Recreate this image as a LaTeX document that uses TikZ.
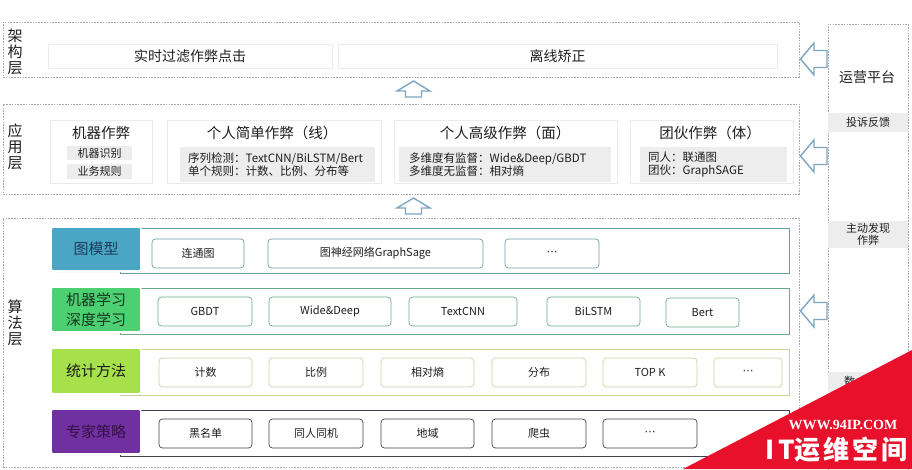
\documentclass[tikz,border=0pt]{standalone}
\usepackage{fontspec}
\setmainfont{Noto Sans CJK SC}
\newfontfamily\dejavu{DejaVu Sans}
\newfontfamily\wmserif{Liberation Serif}
\usetikzlibrary{shadows}
\definecolor{dashgray}{HTML}{A8A8A8}
\definecolor{txt}{HTML}{1E1E1E}
\definecolor{arrowblue}{HTML}{7FA6C0}
\definecolor{subgray}{HTML}{EDEDED}
\definecolor{faint}{HTML}{EBEBEB}
\definecolor{c1}{HTML}{4BA6C6}
\definecolor{c1t}{HTML}{1D3D5C}
\definecolor{c1f}{HTML}{6B9EA6}
\definecolor{c2}{HTML}{4CD071}
\definecolor{c2t}{HTML}{17361F}
\definecolor{c2f}{HTML}{6AAA88}
\definecolor{c3}{HTML}{A6E04B}
\definecolor{c3t}{HTML}{1A1A1A}
\definecolor{c3f}{HTML}{C9D3A0}
\definecolor{c4}{HTML}{7030A0}
\definecolor{c4t}{HTML}{35104A}
\definecolor{c4f}{HTML}{3F3F4F}
\definecolor{wmred}{HTML}{E8102A}
\newcommand\fsz[2]{\fontsize{#1}{#2}\selectfont}
\newcommand\mybox[7]{\node[#1, minimum width={#5-#3}, minimum height={#6-#4}] (#2) at ({(#3+#5)/2},{(#4+#6)/2}) {#7};}
\newcommand\mydots{{\dejavu ⋯}}
\tikzset{
  every node/.style={inner sep=0pt, text=txt, font=\fsz{12}{14}},
  layer/.style={draw=dashgray, dash pattern=on 1.6pt off 1.2pt, line width=0.6pt},
  topbox/.style={draw=faint, fill=white, font=\fsz{14}{16}},
  appbox/.style={draw=faint, fill=white},
  apptitle/.style={font=\fsz{14.5}{17}},
  subbox/.style={fill=subgray},
  subtext/.style={font=\fsz{11.5}{13.5}, align=left, anchor=west},
  lbl/.style={rounded corners=2.5pt, draw=white, line width=1.6pt, drop shadow={opacity=0.3, shadow xshift=0.8pt, shadow yshift=-1pt}, font=\fsz{15}{20}, align=center},
  rowframe/.style={line width=0.8pt, fill=white},
  item/.style={rounded corners=3.5pt, fill=white, line width=0.7pt, font=\fsz{11}{13}},
  side/.style={fill=subgray, font=\fsz{11}{12.5}, align=center},
  vlabel/.style={font=\fsz{15}{16}, align=center},
  arr/.style={draw=arrowblue, fill=white, line width=1.4pt, line join=miter},
  larr/.pic={\draw[arr] (0,0) -- (13.5,-16) -- (13.5,-8.5) -- (26.5,-8.5) -- (26.5,8.5) -- (13.5,8.5) -- (13.5,16) -- cycle;},
  uarr/.pic={\draw[arr] (0,0) -- (16.5,10) -- (8,10) -- (8,16) -- (-8,16) -- (-8,10) -- (-16.5,10) -- cycle;}
}
\begin{document}
\begin{tikzpicture}[x=1pt,y=-1pt]
\useasboundingbox[fill=white] (0,0) rectangle (912,469);
% layers
\mybox{layer}{L1}{3}{22}{799}{77}{}
\mybox{layer}{L2}{3}{104}{799}{194}{}
\mybox{layer}{L3}{3}{218}{799}{467}{}
\mybox{layer}{R}{828}{24}{908}{475}{}
\node[vlabel] (l1) at (15,51.5) {架\\构\\层};
\node[vlabel] (l2) at (15,147) {应\\用\\层};
\node[vlabel] (l3) at (15,323) {算\\法\\层};
% top layer
\mybox{topbox}{t1}{48}{44}{332}{68}{实时过滤作弊点击}
\mybox{topbox}{t2}{338}{44}{777}{68}{离线矫正}
% app layer
\mybox{appbox}{a1}{50}{120}{152}{183}{}
\node[apptitle] (a1t) at (101,133) {机器作弊};
\mybox{subbox,font=\fsz{11}{13}}{a1s1}{67}{146}{132}{160}{机器识别}
\mybox{subbox,font=\fsz{11}{13}}{a1s2}{67}{164}{132}{179}{业务规则}
\mybox{appbox}{a2}{167}{120}{381}{183}{}
\node[apptitle] (a2t) at (272,133) {个人简单作弊（线）};
\mybox{subbox}{a2s}{180}{147}{375}{182}{}
\node[subtext] (a2x) at (188,164.5) {序列检测：TextCNN/BiLSTM/Bert\\单个规则：计数、比例、分布等};
\mybox{appbox}{a3}{394}{120}{617}{183}{}
\node[apptitle] (a3t) at (505,133) {个人高级作弊（面）};
\mybox{subbox}{a3s}{399}{147}{611}{182}{}
\node[subtext] (a3x) at (409,164.5) {多维度有监督：Wide\&Deep/GBDT\\多维度无监督：相对熵};
\mybox{appbox}{a4}{630}{120}{793}{183}{}
\node[apptitle] (a4t) at (710,133) {团伙作弊（体）};
\mybox{subbox}{a4s}{640}{147}{787}{182}{}
\node[subtext] (a4x) at (648,164.5) {同人：联通图\\团伙：GraphSAGE};
% up arrows
\pic at (413.5,81) {uarr};
\pic at (413.5,198) {uarr};
% right column
\node[font=\fsz{14}{16}] (ops) at (867,77) {运营平台};
\mybox{side}{s1}{828}{113}{908}{132}{投诉反馈}
\mybox{side}{s2}{828}{221}{908}{248}{主动发现\\作弊}
\mybox{side}{s3}{828}{372}{908}{392}{}
\node[font=\fsz{11}{12.5}, anchor=west] (s3t) at (844,381) {数};
\pic at (800.5,59) {larr};
\pic at (800.5,156) {larr};
\pic at (800.5,311) {larr};
% row 1
\mybox{rowframe,draw=c1f}{f1}{120}{228}{789}{273}{}
\mybox{lbl,fill=c1,text=c1t}{r1}{51}{227}{141}{271}{图模型}
\mybox{item,draw=c1f}{i11}{152}{239}{244}{268}{连通图}
\mybox{item,draw=c1f}{i12}{268}{239}{483}{268}{图神经网络GraphSage}
\mybox{item,draw=c1f}{i13}{505}{239}{599}{268}{\mydots}
% row 2
\mybox{rowframe,draw=c2f}{f2}{120}{288}{789}{334}{}
\mybox{lbl,fill=c2,text=c2t}{r2}{51}{287}{141}{332}{机器学习\\深度学习}
\mybox{item,draw=c2f}{i21}{158}{297}{252}{326}{GBDT}
\mybox{item,draw=c2f}{i22}{269}{297}{391}{326}{Wide\&Deep}
\mybox{item,draw=c2f}{i23}{409}{297}{517}{326}{TextCNN}
\mybox{item,draw=c2f}{i24}{547}{297}{640}{326}{BiLSTM}
\mybox{item,draw=c2f}{i25}{666}{298}{739}{327}{Bert}
% row 3
\mybox{rowframe,draw=c3f}{f3}{120}{349}{789}{395}{}
\mybox{lbl,fill=c3,text=c3t}{r3}{51}{348}{141}{394}{统计方法}
\mybox{item,draw=c3f}{i31}{159}{358}{252}{387}{计数}
\mybox{item,draw=c3f}{i32}{269}{358}{363}{387}{比例}
\mybox{item,draw=c3f}{i33}{381}{358}{474}{387}{相对熵}
\mybox{item,draw=c3f}{i34}{492}{358}{586}{387}{分布}
\mybox{item,draw=c3f}{i35}{603}{358}{697}{387}{TOP K}
\mybox{item,draw=c3f}{i36}{714}{358}{782}{387}{\mydots}
% row 4
\mybox{rowframe,draw=c4f}{f4}{120}{410}{789}{456}{}
\mybox{lbl,fill=c4,text=c4t}{r4}{51}{409}{141}{454}{专家策略}
\mybox{item,draw=c4f}{i41}{159}{419}{252}{448}{黑名单}
\mybox{item,draw=c4f}{i42}{269}{419}{363}{448}{同人同机}
\mybox{item,draw=c4f}{i43}{381}{419}{474}{448}{地域}
\mybox{item,draw=c4f}{i44}{492}{419}{586}{448}{爬虫}
\mybox{item,draw=c4f}{i45}{603}{419}{697}{448}{\mydots}
% watermark
\fill[wmred] (683,469) -- (912,469) -- (912,350) -- cycle;
\node[text=white, font=\wmserif\bfseries\fsz{14}{15}] (wm1) at (843,425) {WWW.94IP.COM};
\node[text=white, font=\bfseries\fsz{26}{28}] (wm2) at (836.5,450) {I\hspace{4pt}T运\hspace{3pt}维\hspace{3pt}空\hspace{3pt}间};
\end{tikzpicture}
\end{document}
